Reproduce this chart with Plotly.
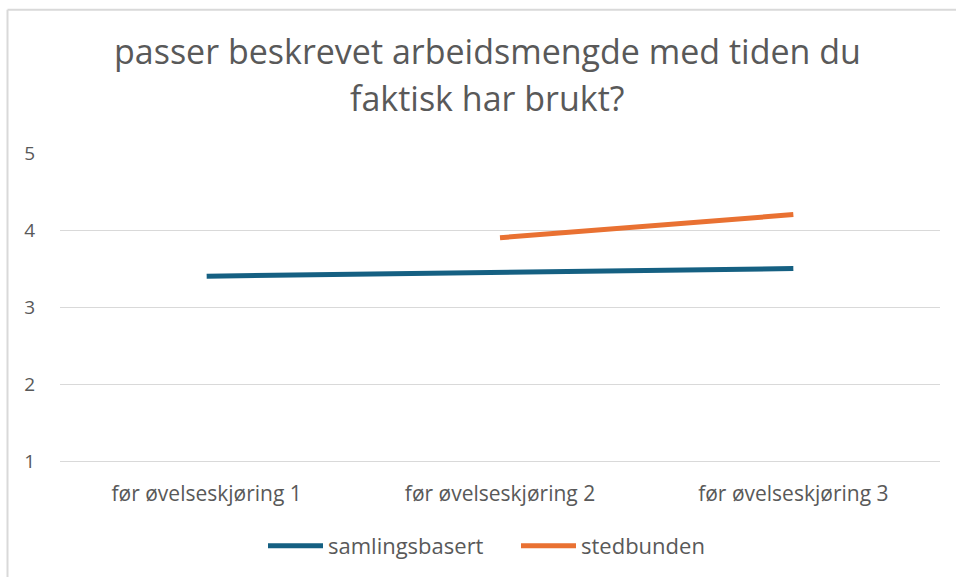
import plotly.graph_objects as go

categories = ["før øvelseskjøring 1", "før øvelseskjøring 2", "før øvelseskjøring 3"]
samlingsbasert = [3.4, 3.45, 3.5]
stedbunden = [None, 3.9, 4.2]
y_ticks = [1, 2, 3, 4, 5]
title_lines = ["passer beskrevet arbeidsmengde med tiden du", "faktisk har brukt?"]

FONT = "Open Sans"
TXT = "#595959"

W, H = 956, 579
ml, mr, mt, mb = 60, 16, 153, 113
pw, ph = W - ml - mr, H - mt - mb


def px_x(x):
    return (x - ml) / pw


def px_y(y):
    return 1 + (mt - y) / ph


fig = go.Figure()
fig.add_trace(go.Scatter(x=categories, y=samlingsbasert, mode="lines", name="samlingsbasert",
                         line=dict(color="#156082", width=5)))
fig.add_trace(go.Scatter(x=categories, y=stedbunden, mode="lines", name="stedbunden",
                         line=dict(color="#E97132", width=5)))

bx = px_x(7.5)
by = px_y(7.5)
fig.add_shape(type="line", xref="paper", yref="paper", x0=bx, x1=px_x(W + 5), y0=by, y1=by,
              line=dict(color="#d9d9d9", width=2))
fig.add_shape(type="line", xref="paper", yref="paper", x0=bx, x1=bx, y0=by, y1=px_y(H + 5),
              line=dict(color="#d9d9d9", width=2))

for txt, ypix in zip(title_lines, [49, 97]):
    fig.add_annotation(text=txt, xref="paper", yref="paper", x=px_x(487), y=px_y(ypix),
                       xanchor="center", yanchor="middle", showarrow=False,
                       font=dict(size=34, color=TXT, family=FONT))

fig.update_layout(
    width=W, height=H,
    margin=dict(l=ml, r=mr, t=mt, b=mb),
    paper_bgcolor="white", plot_bgcolor="white",
    font=dict(family=FONT, color=TXT),
    xaxis=dict(type="category", range=[-0.5, 2.5], showgrid=False, zeroline=False,
               showline=True, linecolor="#d9d9d9", linewidth=1,
               tickfont=dict(size=21, color=TXT), ticks="", ticklabelstandoff=14),
    yaxis=dict(range=[1, 5], tickvals=y_ticks, showgrid=True, gridcolor="#d9d9d9", gridwidth=1,
               zeroline=False, showline=False, tickfont=dict(size=19, color=TXT),
               ticklabelstandoff=24),
    legend=dict(orientation="h", x=px_x(263), xanchor="left", y=px_y(531), yanchor="top",
                yref="paper", font=dict(size=22, color=TXT), itemwidth=55,
                entrywidth=183),
    showlegend=True,
)

fig.write_html("out.html", config={"displayModeBar": False},
               post_script="document.body.style.margin='0';")
